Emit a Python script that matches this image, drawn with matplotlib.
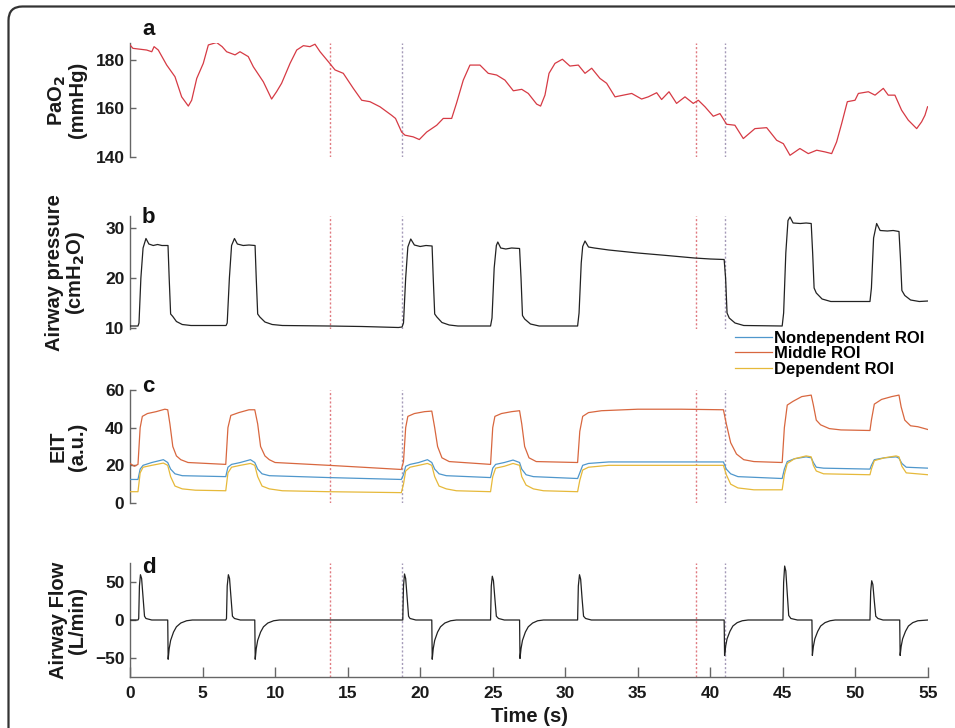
import numpy as np
import matplotlib
matplotlib.use("Agg")
import matplotlib.pyplot as plt
from matplotlib.patches import FancyBboxPatch
from matplotlib.transforms import IdentityTransform

plt.rcParams["font.family"] = ["Liberation Sans", "DejaVu Sans"]
plt.rcParams["font.weight"] = "bold"
plt.rcParams["axes.labelweight"] = "bold"

# ── data ──────────────────────────────────────────────────────────────────
pao2_t = [0.0, 0.2, 1.15, 1.5, 1.66, 1.95, 2.53, 3.1, 3.56, 4.02, 4.25, 4.6, 5.05, 5.4,
          5.97, 6.35, 6.66, 7.24, 7.58, 8.15, 8.5, 9.19, 9.76, 10.1, 10.45, 11.03, 11.49,
          11.95, 12.4, 12.75, 13.1, 13.67, 14.13, 14.7, 15.39, 15.97, 16.54, 17.23, 18.03,
          18.3, 18.72, 18.95, 19.52, 19.94, 20.45, 21.14, 21.59, 22.17, 22.5, 22.97, 23.43,
          24.12, 24.69, 25.27, 25.84, 26.42, 27.0, 27.45, 28.03, 28.3, 28.6, 28.88, 29.29,
          29.8, 30.32, 30.9, 31.36, 31.82, 32.39, 32.85, 33.43, 34.0, 34.58, 35.26, 35.72,
          36.3, 36.64, 37.15, 37.67, 38.25, 38.82, 39.17, 39.63, 40.2, 40.66, 41.12, 41.69,
          42.27, 43.07, 43.88, 44.57, 45.03, 45.49, 46.17, 46.75, 47.33, 47.9, 48.36, 48.7,
          49.05, 49.44, 49.97, 50.2, 50.89, 51.35, 51.92, 52.26, 52.72, 53.18, 53.64, 54.22,
          54.56, 54.79, 54.97]
pao2_v = [186.2, 184.8, 184.1, 183.4, 185.5, 184.1, 177.9, 173.1, 164.8, 161.0, 163.4,
          172.4, 178.6, 186.2, 187.2, 185.5, 183.4, 182.1, 183.4, 181.4, 177.2, 171.0,
          163.9, 166.9, 170.4, 178.6, 184.1, 185.9, 185.5, 186.5, 183.4, 179.3, 175.9,
          174.5, 168.3, 163.4, 162.8, 160.7, 157.2, 155.9, 150.3, 149.0, 148.3, 147.2,
          150.3, 153.1, 155.9, 155.9, 162.1, 171.7, 177.9, 177.9, 174.5, 173.8, 171.7,
          167.3, 167.9, 166.2, 161.8, 161.0, 165.5, 174.5, 178.6, 180.3, 177.5, 177.9,
          174.5, 176.6, 172.4, 170.4, 164.8, 165.5, 166.2, 163.9, 164.8, 166.5, 163.7,
          166.9, 162.1, 164.8, 162.1, 163.4, 160.7, 156.8, 157.9, 153.5, 153.1, 147.6,
          151.7, 152.1, 146.9, 145.5, 140.7, 143.5, 141.4, 142.8, 142.1, 141.4, 146.2,
          153.8, 162.8, 163.4, 166.2, 166.9, 165.5, 168.3, 165.5, 165.5, 159.3, 155.2,
          151.7, 154.5, 157.2, 160.7]

paw_t = [0.0, 0.55, 0.62, 0.75, 0.9, 1.1, 1.3, 1.6, 1.9, 2.2, 2.62, 2.7, 2.8, 2.95, 3.2,
         3.6, 4.2, 6.62, 6.7, 6.85, 7.0, 7.2, 7.4, 7.8, 8.2, 8.62, 8.7, 8.8, 8.95, 9.3, 9.8,
         10.5, 13.7, 16.0, 18.5, 18.75, 18.85, 19.0, 19.15, 19.35, 19.6, 20.0, 20.4, 20.82,
         20.9, 21.0, 21.15, 21.5, 22.0, 22.6, 24.85, 24.95, 25.1, 25.25, 25.35, 25.55, 25.9,
         26.3, 26.85, 26.95, 27.05, 27.2, 27.6, 28.2, 30.85, 30.95, 31.1, 31.2, 31.36, 31.6,
         32.0, 33.0, 35.0, 37.0, 38.9, 40.0, 40.95, 41.05, 41.15, 41.3, 41.7, 42.3, 44.95,
         45.05, 45.2, 45.35, 45.49, 45.7, 46.2, 46.6, 46.95, 47.05, 47.15, 47.3, 47.7, 48.3,
         51.0, 51.1, 51.25, 51.46, 51.7, 52.2, 52.6, 53.0, 53.1, 53.2, 53.4, 53.8, 54.4, 55.0]
paw_v = [10.4, 10.4, 11.0, 20.0, 26.0, 27.9, 26.8, 26.5, 26.7, 26.5, 26.5, 20.0, 12.8,
         12.3, 11.3, 10.7, 10.5, 10.5, 11.0, 20.0, 26.5, 27.9, 26.8, 26.5, 26.6, 26.5, 20.0,
         12.8, 12.2, 11.2, 10.7, 10.5, 10.4, 10.3, 10.1, 10.2, 11.0, 20.0, 26.2, 27.8, 26.6,
         26.3, 26.5, 26.4, 20.0, 12.8, 12.2, 11.1, 10.6, 10.4, 10.4, 12.0, 22.0, 26.5, 27.2,
         26.0, 25.8, 26.0, 25.9, 20.0, 12.5, 11.8, 10.8, 10.4, 10.4, 13.0, 23.0, 26.3, 27.4,
         26.2, 26.0, 25.6, 25.0, 24.5, 24.0, 23.8, 23.7, 20.0, 13.0, 12.0, 11.0, 10.5, 10.4,
         13.0, 25.0, 31.5, 32.2, 31.0, 30.9, 31.0, 30.9, 25.0, 18.0, 17.0, 15.8, 15.3, 15.3,
         18.0, 28.0, 30.9, 29.5, 29.4, 29.5, 29.3, 24.0, 17.5, 16.5, 15.6, 15.3, 15.4]

mid_t = [0.0, 0.3, 0.55, 0.7, 0.85, 1.2, 1.8, 2.4, 2.6, 2.75, 2.95, 3.2, 3.5, 4.0, 6.6,
         6.75, 6.95, 7.5, 8.2, 8.6, 8.8, 9.0, 9.3, 9.6, 10.0, 13.7, 16.0, 18.7, 18.85, 19.0,
         19.15, 19.6, 20.3, 20.8, 21.0, 21.2, 21.5, 22.0, 24.85, 25.0, 25.15, 25.6, 26.3,
         26.85, 27.0, 27.2, 27.5, 28.0, 30.85, 31.0, 31.2, 31.6, 32.5, 35.0, 38.0, 40.9,
         41.1, 41.4, 41.8, 42.3, 43.0, 44.95, 45.1, 45.3, 45.7, 46.3, 46.95, 47.1, 47.3,
         47.6, 48.2, 49.0, 51.0, 51.1, 51.3, 51.8, 52.5, 53.0, 53.15, 53.4, 53.8, 54.3, 55.0]
mid_v = [21.0, 19.5, 20.5, 40.0, 46.0, 47.5, 48.5, 49.8, 49.5, 42.0, 30.0, 25.0, 23.0,
         21.5, 20.5, 40.0, 46.5, 48.0, 49.5, 49.5, 42.0, 30.0, 25.0, 23.0, 21.5, 20.0, 19.0,
         17.8, 22.0, 40.0, 46.0, 47.5, 48.5, 48.8, 40.0, 30.0, 24.0, 22.0, 20.5, 40.0, 46.0,
         47.5, 48.5, 49.0, 42.0, 30.0, 24.0, 22.0, 21.5, 38.0, 46.0, 48.0, 49.0, 49.8, 49.8,
         49.5, 42.0, 32.0, 26.0, 23.0, 22.0, 21.5, 40.0, 52.0, 54.0, 56.5, 57.3, 52.0, 44.0,
         41.5, 39.5, 38.8, 38.5, 44.0, 52.5, 55.0, 56.5, 57.3, 51.0, 44.0, 41.0, 40.5, 39.0]

nondep_t = [0.0, 0.55, 0.7, 0.9, 1.5, 2.3, 2.6, 2.8, 3.1, 3.6, 6.6, 6.75, 7.0, 7.6, 8.3,
            8.6, 8.8, 9.1, 9.6, 13.7, 18.7, 18.85, 19.0, 19.3, 19.9, 20.5, 20.8, 21.0, 21.3,
            21.8, 24.85, 25.0, 25.2, 25.8, 26.4, 26.85, 27.0, 27.3, 27.8, 30.85, 31.0, 31.2,
            31.6, 33.0, 40.9, 41.1, 41.4, 41.9, 44.95, 45.1, 45.3, 45.8, 46.6, 46.95, 47.1,
            47.3, 47.8, 51.0, 51.1, 51.3, 52.0, 52.8, 53.0, 53.2, 53.5, 55.0]
nondep_v = [12.5, 12.5, 18.0, 20.0, 21.5, 23.0, 21.5, 18.0, 15.5, 14.5, 14.0, 19.0, 20.5,
            21.5, 23.0, 21.5, 18.0, 15.5, 14.5, 13.5, 12.5, 15.0, 19.5, 20.5, 21.5, 23.0,
            21.5, 18.0, 15.5, 14.5, 13.5, 18.5, 20.5, 21.5, 22.8, 21.5, 18.0, 15.0, 14.0,
            13.0, 16.0, 20.0, 21.0, 21.8, 21.8, 18.0, 15.5, 14.0, 13.0, 18.0, 22.0, 23.5,
            24.5, 24.0, 21.5, 19.0, 18.5, 18.0, 20.0, 23.0, 24.0, 24.5, 23.8, 21.0, 19.0, 18.5]

dep_t = [0.0, 0.55, 0.7, 0.9, 1.5, 2.3, 2.6, 2.8, 3.1, 3.6, 4.5, 6.6, 6.75, 7.0, 7.6, 8.3,
         8.6, 8.8, 9.1, 9.6, 10.5, 13.7, 18.7, 18.85, 19.0, 19.3, 19.9, 20.5, 20.8, 21.0,
         21.3, 21.8, 22.5, 24.85, 25.0, 25.2, 25.8, 26.4, 26.85, 27.0, 27.3, 27.8, 28.5,
         30.85, 31.0, 31.2, 31.6, 33.0, 40.9, 41.1, 41.4, 41.9, 43.0, 44.95, 45.1, 45.3,
         45.8, 46.6, 46.95, 47.1, 47.3, 47.8, 51.0, 51.1, 51.3, 52.0, 52.8, 53.0, 53.2,
         53.5, 55.0]
dep_v = [6.0, 6.0, 16.0, 19.0, 20.0, 21.2, 20.0, 14.0, 9.0, 7.5, 6.8, 6.5, 16.0, 19.0,
         20.0, 21.0, 20.0, 14.0, 9.0, 7.5, 6.5, 6.0, 5.5, 10.0, 17.0, 19.0, 20.0, 21.0,
         20.0, 14.0, 9.0, 7.5, 6.5, 6.0, 14.0, 18.5, 19.5, 21.0, 20.0, 14.0, 9.5, 7.5, 6.5,
         6.0, 12.0, 17.5, 19.0, 20.0, 20.0, 15.0, 10.0, 8.0, 7.0, 7.0, 15.0, 21.0, 23.5,
         25.0, 24.5, 20.0, 17.0, 15.5, 15.0, 18.0, 22.5, 24.0, 25.0, 24.5, 19.5, 16.0, 15.0]

flow_t = [0.0, 0.55, 0.6, 0.65, 0.72, 0.8, 0.9, 1.0, 1.1, 1.5, 2.6, 2.63, 2.7, 2.8, 3.0,
          3.2, 3.5, 3.9, 4.3, 6.6, 6.65, 6.7, 6.78, 6.86, 6.96, 7.06, 7.2, 7.6, 8.6, 8.63,
          8.7, 8.8, 9.0, 9.2, 9.5, 9.9, 10.3, 18.8, 18.85, 18.92, 19.0, 19.1, 19.2, 19.3,
          19.7, 20.8, 20.83, 20.9, 21.0, 21.2, 21.4, 21.7, 22.1, 22.5, 24.85, 24.9, 24.97,
          25.05, 25.15, 25.25, 25.4, 25.8, 26.85, 26.88, 26.95, 27.05, 27.25, 27.45, 27.75,
          28.1, 28.5, 30.85, 30.9, 30.98, 31.06, 31.16, 31.26, 31.4, 31.8, 40.95, 40.98,
          41.05, 41.15, 41.35, 41.55, 41.85, 42.2, 42.6, 45.0, 45.05, 45.12, 45.2, 45.3,
          45.4, 45.55, 46.0, 47.0, 47.03, 47.1, 47.2, 47.4, 47.6, 47.9, 48.25, 48.6, 51.0,
          51.05, 51.12, 51.2, 51.3, 51.4, 51.55, 51.9, 53.05, 53.08, 53.15, 53.25, 53.45,
          53.65, 53.95, 54.3, 55.0]
flow_v = [0, 0, 2, 45, 60, 55, 30, 5, 2, 0, 0, -52, -38, -27, -16, -9, -4, -1, 0, 0, 2,
          45, 60, 55, 30, 5, 2, 0, 0, -52, -38, -27, -16, -9, -4, -1, 0, 0, 45, 61, 55, 30,
          5, 2, 0, 0, -52, -38, -27, -16, -9, -4, -1, 0, 0, 45, 58, 52, 28, 5, 2, 0, 0, -51,
          -38, -27, -16, -9, -4, -1, 0, 0, 45, 60, 54, 28, 5, 2, 0, 0, -47, -35, -25, -15,
          -8, -3.5, -1, 0, 0, 50, 71.5, 65, 35, 6, 2, 0, 0, -47, -35, -25, -15, -8, -3.5, -1,
          0, 0, 38, 52, 47, 25, 5, 2, 0, 0, -47, -35, -25, -15, -8, -3.5, -1, 0]

event_t = [13.75, 18.75, 39.0, 41.0]
event_colors = ["#e07a80", "#a59ab8", "#e07a80", "#a59ab8"]

roi_labels = ["Nondependent ROI", "Middle ROI", "Dependent ROI"]
roi_colors = ["#4f97cc", "#d8673f", "#e6b93a"]

W, H = 955, 728
fig = plt.figure(figsize=(W / 100, H / 100), dpi=100)


def add_panel(top, bottom):
    return fig.add_axes([130 / W, 1 - bottom / H, 798 / W, (bottom - top) / H])


panels = [
    (43, 157, (140, 187), [140, 160, 180], "PaO$_\\mathbf{2}$\n(mmHg)", "a", 35),
    (216, 329.5, (9.7, 32.4), [10, 20, 30], "Airway pressure\n(cmH$_\\mathbf{2}$O)", "b", 223),
    (390, 503, (0, 60), [0, 20, 40, 60], "EIT\n(a.u.)", "c", 392),
    (563.4, 676.6, (-75, 75), [-50, 0, 50], "Airway Flow\n(L/min)", "d", 573),
]

axes = []
for top, bottom, ylim, yticks, ylabel, tag, tag_y in panels:
    ax = add_panel(top, bottom)
    ax.set_xlim(0, 55)
    ax.set_ylim(*ylim)
    ax.set_yticks(yticks)
    for s in ["top", "right"]:
        ax.spines[s].set_visible(False)
    for s in ["left", "bottom"]:
        ax.spines[s].set_color("#666666")
        ax.spines[s].set_linewidth(1.0)
    ax.tick_params(direction="in", length=4, width=1.0, color="#666666",
                   labelsize=12.5, labelcolor="#1a1a1a", pad=4)
    ax.set_ylabel(ylabel, fontsize=14.5, color="#1a1a1a", linespacing=1.0)
    ax.yaxis.set_label_coords(-0.054, 0.5)
    ax.patch.set_alpha(0)
    for t, c in zip(event_t, event_colors):
        ax.axvline(t, color=c, linestyle=(0, (1.5, 1.5)), linewidth=1.0, zorder=1)
    fig.text(142 / W, 1 - tag_y / H, tag, fontsize=16, va="baseline", ha="left",
             color="#111111")
    axes.append(ax)

ax_a, ax_b, ax_c, ax_d = axes
for ax in (ax_a, ax_b, ax_c):
    ax.spines["bottom"].set_visible(False)
    ax.set_xticks([])

ax_a.plot(pao2_t, pao2_v, color="#d63a44", lw=0.9, zorder=3)
ax_b.plot(paw_t, paw_v, color="#222222", lw=0.9, zorder=3)

roi_lines = []
for tt, vv, lab, col in zip([nondep_t, mid_t, dep_t], [nondep_v, mid_v, dep_v],
                            roi_labels, roi_colors):
    ln, = ax_c.plot(tt, vv, color=col, lw=0.9, label=lab, zorder=3)
    roi_lines.append(ln)

ax_d.plot(flow_t, flow_v, color="#222222", lw=0.9, zorder=3)
ax_d.set_xticks(np.arange(0, 56, 5))
ax_d.tick_params(axis="x", length=7, pad=7)
ax_d.set_xlabel("Time (s)", fontsize=14.5, color="#1a1a1a", labelpad=4)

fig.legend(handles=roi_lines, labels=roi_labels, loc="upper left",
           bbox_to_anchor=(735 / W, 1 - 331 / H), frameon=False, fontsize=12,
           handlelength=2.2, handletextpad=0.15, labelspacing=0.02,
           borderpad=0, borderaxespad=0)

# rounded frame around the figure (cut off at right and bottom)
frame = FancyBboxPatch((8.5, -60), 1000, H - 6.5 + 60, boxstyle="round,pad=0,rounding_size=14",
                       transform=IdentityTransform(), fill=False, edgecolor="#333333",
                       linewidth=1.6)
fig.add_artist(frame)

fig.savefig("out.png", dpi=100)
